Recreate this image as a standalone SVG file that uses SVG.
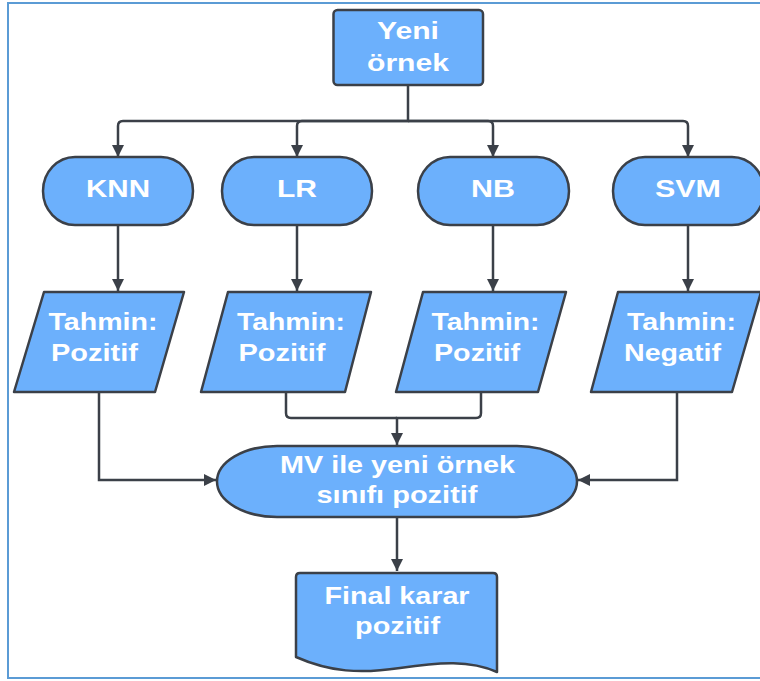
<svg xmlns="http://www.w3.org/2000/svg" width="760" height="681" viewBox="0 0 760 681">
<defs>
<style>
.n{fill:#6cb0fc;stroke:#3b4048;stroke-width:2.5;stroke-linejoin:round}
.t{font-family:"Liberation Sans",Arial,sans-serif;font-weight:bold;font-size:24px;fill:#ffffff;text-anchor:middle}
.c{fill:none;stroke:#3b4048;stroke-width:2.5}
</style>
<marker id="ah" viewBox="0 0 12 12" refX="12" refY="6" markerWidth="12" markerHeight="13" markerUnits="userSpaceOnUse" orient="auto">
<path d="M0,0 L12,6 L0,12 Z" fill="#3b4048"/>
</marker>
</defs>
<rect x="0" y="0" width="760" height="681" fill="#ffffff"/>
<rect x="8" y="3" width="770" height="675" fill="none" stroke="#5b9bd5" stroke-width="2"/>

<g id="connectors">
<path class="c" d="M408,86 V121 H123 Q118,121 118,126 V157" marker-end="url(#ah)"/>
<path class="c" d="M408,121 H302 Q297,121 297,126 V157" marker-end="url(#ah)"/>
<path class="c" d="M408,121 H488 Q493,121 493,126 V157" marker-end="url(#ah)"/>
<path class="c" d="M408,121 H683 Q688,121 688,126 V157" marker-end="url(#ah)"/>
<path class="c" d="M118,225 V291" marker-end="url(#ah)"/>
<path class="c" d="M297,225 V291" marker-end="url(#ah)"/>
<path class="c" d="M493,225 V291" marker-end="url(#ah)"/>
<path class="c" d="M688,225 V291" marker-end="url(#ah)"/>
<path class="c" d="M99,392 V480 H216" marker-end="url(#ah)"/>
<path class="c" d="M677,392 V480 H578" marker-end="url(#ah)"/>
<path class="c" d="M286,392 V413 Q286,418 291,418 H397"/>
<path class="c" d="M481,392 V413 Q481,418 476,418 H397 V445" marker-end="url(#ah)"/>
<path class="c" d="M397,518 V571" marker-end="url(#ah)"/>
</g>

<g id="yeni">
<rect class="n" x="333.5" y="10" width="149.5" height="75" rx="4"/>
<text class="t" x="408" y="39" textLength="62" lengthAdjust="spacingAndGlyphs">Yeni</text>
<text class="t" x="408" y="71" textLength="82" lengthAdjust="spacingAndGlyphs">örnek</text>
</g>

<g id="knn">
<rect class="n" x="43" y="157" width="150" height="68" rx="32" ry="34"/>
<text class="t" x="118" y="197" textLength="64" lengthAdjust="spacingAndGlyphs">KNN</text>
</g>
<g id="lr">
<rect class="n" x="222" y="157" width="150" height="68" rx="32" ry="34"/>
<text class="t" x="297" y="197" textLength="40" lengthAdjust="spacingAndGlyphs">LR</text>
</g>
<g id="nb">
<rect class="n" x="418" y="157" width="151" height="68" rx="32" ry="34"/>
<text class="t" x="493" y="197" textLength="44" lengthAdjust="spacingAndGlyphs">NB</text>
</g>
<g id="svm">
<rect class="n" x="613" y="157" width="151" height="68" rx="32" ry="34"/>
<text class="t" x="688" y="197" textLength="66" lengthAdjust="spacingAndGlyphs">SVM</text>
</g>

<g id="p-knn">
<polygon class="n" points="44,292 184,292 155,392 14,392"/>
<text class="t" x="103" y="330" textLength="109" lengthAdjust="spacingAndGlyphs">Tahmin:</text>
<text class="t" x="94.5" y="361" textLength="87" lengthAdjust="spacingAndGlyphs">Pozitif</text>
</g>
<g id="p-lr">
<polygon class="n" points="228,292 371,292 345,392 201,392"/>
<text class="t" x="291" y="330" textLength="108" lengthAdjust="spacingAndGlyphs">Tahmin:</text>
<text class="t" x="282" y="361" textLength="87" lengthAdjust="spacingAndGlyphs">Pozitif</text>
</g>
<g id="p-nb">
<polygon class="n" points="423,292 566,292 538,392 396,392"/>
<text class="t" x="485.5" y="330" textLength="108" lengthAdjust="spacingAndGlyphs">Tahmin:</text>
<text class="t" x="477" y="361" textLength="86" lengthAdjust="spacingAndGlyphs">Pozitif</text>
</g>
<g id="p-svm">
<polygon class="n" points="618,292 761,292 732,392 591,392"/>
<text class="t" x="681.5" y="330" textLength="109" lengthAdjust="spacingAndGlyphs">Tahmin:</text>
<text class="t" x="672.5" y="361" textLength="97" lengthAdjust="spacingAndGlyphs">Negatif</text>
</g>

<g id="mv">
<path class="n" d="M277,446 H517 A60,35.5 0 0 1 517,517 H277 A60,35.5 0 0 1 277,446 Z"/>
<text class="t" x="397.5" y="473" textLength="235" lengthAdjust="spacingAndGlyphs">MV ile yeni örnek</text>
<text class="t" x="397" y="503" textLength="161" lengthAdjust="spacingAndGlyphs">sınıfı pozitif</text>
</g>

<g id="final">
<path class="n" d="M300,573 H493 Q497,573 497,577 V672 C470,660 440,662 400,668 C360,674 330,672 296,657 V577 Q296,573 300,573 Z"/>
<text class="t" x="397" y="604" textLength="145" lengthAdjust="spacingAndGlyphs">Final karar</text>
<text class="t" x="397.5" y="634" textLength="85" lengthAdjust="spacingAndGlyphs">pozitif</text>
</g>
</svg>
